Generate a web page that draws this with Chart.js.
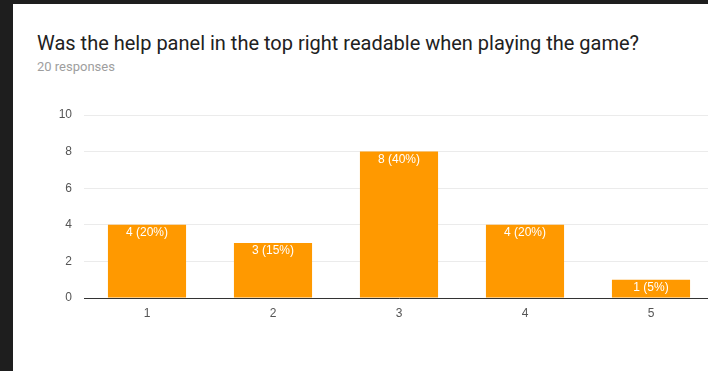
<!DOCTYPE html>
<html>
<head>
<meta charset="utf-8">
<script src="https://cdn.jsdelivr.net/npm/chart.js@4.4.1/dist/chart.umd.min.js"></script>
<style>
  html, body { margin: 0; padding: 0; width: 708px; height: 371px; overflow: hidden; background: #1e1e1e; }
  #panel { position: absolute; left: 13px; top: 4px; right: 0; bottom: 0; background: #fff; }
  #title { position: absolute; left: 37px; top: 31px; font-family: Roboto, "Liberation Sans", sans-serif; font-size: 20px; color: #212121; white-space: nowrap; }
  #sub { position: absolute; left: 37px; top: 59px; font-family: Roboto, "Liberation Sans", sans-serif; font-size: 13px; color: #9e9e9e; white-space: nowrap; }
  #wrap { position: absolute; left: 0; top: 0; width: 740px; height: 371px; }
</style>
</head>
<body>
<div id="panel"></div>
<div id="title">Was the help panel in the top right readable when playing the game?</div>
<div id="sub">20 responses</div>
<div id="wrap"><canvas id="c" width="740" height="371"></canvas></div>
<script>
const categories = ["1", "2", "3", "4", "5"];
const counts = [4, 3, 8, 4, 1];
const percents = [20, 15, 40, 20, 5];
const yTicks = [0, 2, 4, 6, 8, 10];

const barLabels = {
  id: 'barLabels',
  afterDatasetsDraw(chart) {
    const ctx = chart.ctx;
    const meta = chart.getDatasetMeta(0);
    ctx.save();
    ctx.fillStyle = '#ffffff';
    ctx.font = '12px "Liberation Sans", Arial, sans-serif';
    ctx.textAlign = 'center';
    ctx.textBaseline = 'middle';
    meta.data.forEach((bar, i) => {
      ctx.fillText(counts[i] + ' (' + percents[i] + '%)', bar.x, bar.y + 8);
    });
    ctx.restore();
  }
};

new Chart(document.getElementById('c'), {
  type: 'bar',
  data: {
    labels: categories,
    datasets: [{
      data: counts,
      backgroundColor: '#ff9900',
      borderWidth: 0,
      barPercentage: 0.62,
      categoryPercentage: 1.0
    }]
  },
  options: {
    responsive: false,
    animation: false,
    layout: { padding: { left: 0, right: 26, top: 115, bottom: 43 } },
    plugins: { legend: { display: false }, tooltip: { enabled: false }, title: { display: false } },
    scales: {
      x: {
        grid: { display: false, drawTicks: false },
        border: { display: true, color: '#333333', width: 1 },
        ticks: { color: '#555555', font: { family: '"Liberation Sans", Arial, sans-serif', size: 12 }, padding: 8 },
        afterFit(scale) { scale.height = 30; }
      },
      y: {
        min: 0, max: 10,
        afterBuildTicks(scale) { scale.ticks = yTicks.map(v => ({ value: v })); },
        grid: { color: '#ebebeb', drawTicks: false },
        border: { display: false },
        ticks: { color: '#555555', font: { family: '"Liberation Sans", Arial, sans-serif', size: 12 }, padding: 12 },
        afterFit(scale) { scale.width = 84; }
      }
    }
  },
  plugins: [barLabels]
});
</script>
</body>
</html>
